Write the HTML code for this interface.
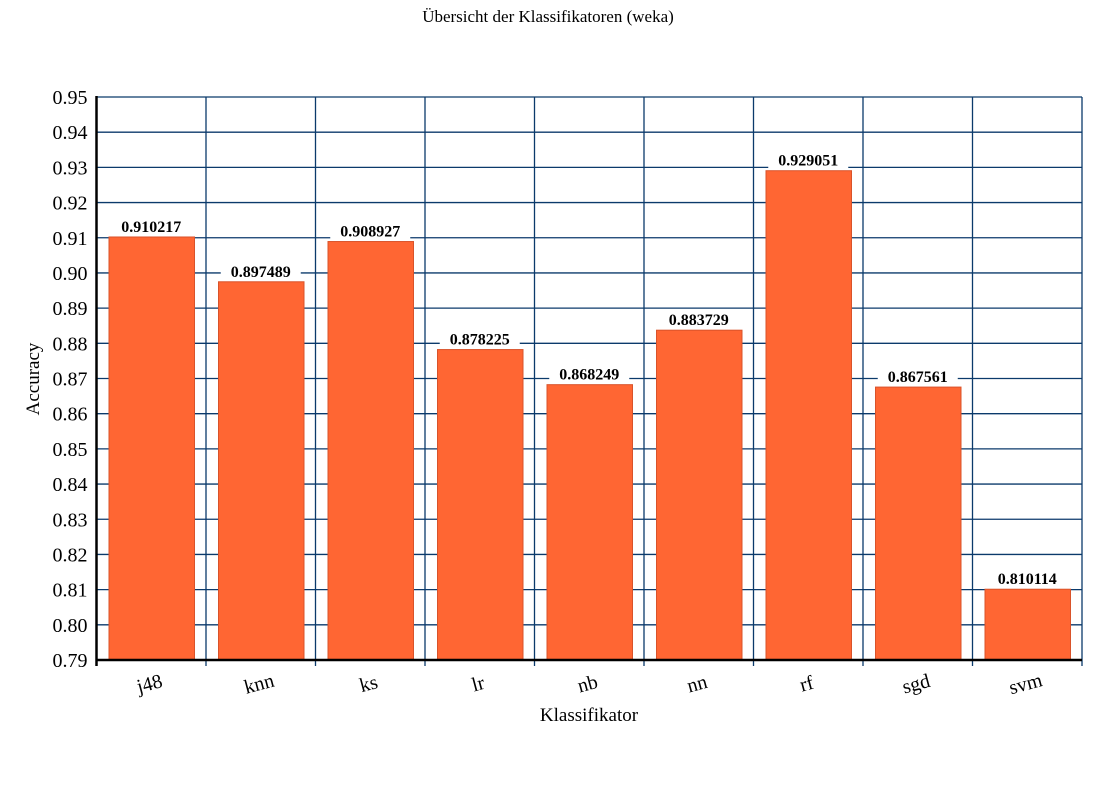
<!DOCTYPE html>
<html><head><meta charset="utf-8"><style>
body{margin:0;background:#fff;}
svg text{font-family:"Liberation Serif",serif;fill:#000;}
</style></head><body>
<svg id="chart" width="1095" height="805" xmlns="http://www.w3.org/2000/svg">
<text x="548" y="22" font-size="17" text-anchor="middle">Übersicht der Klassifikatoren (weka)</text>
<g id="grid"></g><g id="bars"></g><g id="axes"></g>
<text transform="translate(39,379) rotate(-90)" font-size="19" text-anchor="middle">Accuracy</text>
<text x="589" y="721" font-size="19" text-anchor="middle">Klassifikator</text>
</svg>
<script>
const categories=["j48","knn","ks","lr","nb","nn","rf","sgd","svm"];
const values=[0.910217,0.897489,0.908927,0.878225,0.868249,0.883729,0.929051,0.867561,0.810114];
const valueLabels=["0.910217","0.897489","0.908927","0.878225","0.868249","0.883729","0.929051","0.867561","0.810114"];
const yTicks=[0.79,0.80,0.81,0.82,0.83,0.84,0.85,0.86,0.87,0.88,0.89,0.90,0.91,0.92,0.93,0.94,0.95];
const NS="http://www.w3.org/2000/svg";
const L=96.5,R=1082,T=97,B=660,yMin=0.79,yMax=0.95;
const cw=(R-L)/categories.length;
const y=v=>B-(v-yMin)/(yMax-yMin)*(B-T);
const x=i=>L+i*cw;
function mk(t,a,p){const e=document.createElementNS(NS,t);for(const k in a)e.setAttribute(k,a[k]);p.appendChild(e);return e;}
const grid=document.getElementById('grid'),bars=document.getElementById('bars'),axes=document.getElementById('axes');
yTicks.forEach(v=>{
 const ln=mk('line',{x1:L,x2:R,y1:y(v),y2:y(v),stroke:'#0b3a6b','stroke-width':1.3},grid);
 
 
 const t=mk('text',{x:L-9,y:y(v)+7,'font-size':20,'text-anchor':'end'},axes);
 t.textContent=v.toFixed(2);
 
 
});
for(let i=1;i<=categories.length;i++){
 const ln=mk('line',{x1:x(i),x2:x(i),y1:T,y2:B+6,stroke:'#0b3a6b','stroke-width':1.3},grid);
 
 
}
categories.forEach((c,i)=>{
 const bx=x(i)+12.5,bw=cw-24,by=y(values[i]);
 const r=mk('rect',{x:bx,y:by,width:bw,height:B-by,fill:'#ff6633',stroke:'#d9532a','stroke-width':1},bars);
 
 
 const bg=mk('rect',{x:x(i)+cw/2-40,y:by-20,width:80,height:18,fill:'#fff'},bars);
 
 
 const t=mk('text',{x:x(i)+cw/2,y:by-5,'font-size':16,'font-weight':'bold','text-anchor':'middle'},bars);
 t.textContent=valueLabels[i];
 
 
 const xl=mk('text',{transform:`translate(${x(i)+cw/2},${B+30}) rotate(-15)`,'font-size':20,'text-anchor':'middle'},axes);
 xl.textContent=c;
 
 
});
const ya=mk('line',{x1:L,x2:L,y1:T-1,y2:B+6,stroke:'#000','stroke-width':2.5},axes);


const xa=mk('line',{x1:L,x2:R,y1:B,y2:B,stroke:'#000','stroke-width':2.5},axes);


</script>
</body></html>
